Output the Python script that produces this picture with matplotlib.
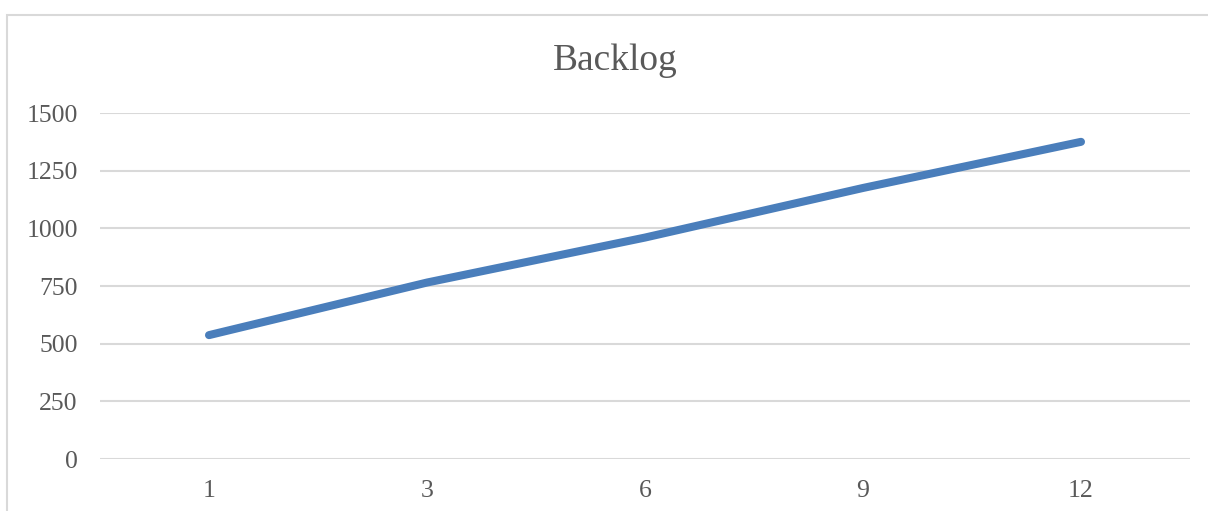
import matplotlib
matplotlib.use('Agg')
from matplotlib import pyplot as plt
from matplotlib.patches import Rectangle

# Backlog by month
months = ['1', '3', '6', '9', '12']
backlog = [537, 765, 960, 1175, 1375]
y_ticks = [0, 250, 500, 750, 1000, 1250, 1500]

plt.rcParams['font.family'] = ['Liberation Serif', 'DejaVu Serif']
text_color = '#595959'
grid_color = '#d9d9d9'

fig = plt.figure(figsize=(12.08, 5.11), dpi=100)

# chart frame (left and top edges only show)
fig.patches.append(Rectangle((7 / 1208, -0.05), 1.2, 1 - 15 / 511 + 0.05,
                             transform=fig.transFigure, fill=False,
                             edgecolor=grid_color, linewidth=1.5))

ax = fig.add_axes([100 / 1208, 1 - 459 / 511, 1090 / 1208, 346 / 511])

x = range(len(months))
ax.plot(x, backlog, color='#4a7ebb', linewidth=5.8, solid_capstyle='round',
        zorder=3)

ax.set_xlim(-0.5, len(months) - 0.5)
ax.set_ylim(0, 1500)
ax.set_xticks(list(x))
ax.set_xticklabels(months)
ax.set_yticks(y_ticks)
ax.set_yticklabels([str(v) for v in y_ticks])

ax.grid(axis='y', color=grid_color, linewidth=1.5)
ax.set_axisbelow(True)
for side in ['top', 'right', 'left', 'bottom']:
    ax.spines[side].set_visible(False)

ax.tick_params(axis='both', length=0, labelsize=18.5, colors=text_color)
ax.tick_params(axis='y', pad=16)
ax.tick_params(axis='x', pad=15)

fig.text(615 / 1208, 1 - 61 / 511, 'Backlog', ha='center', va='center',
         fontsize=27, color=text_color)

plt.savefig('out.png', dpi=100)
